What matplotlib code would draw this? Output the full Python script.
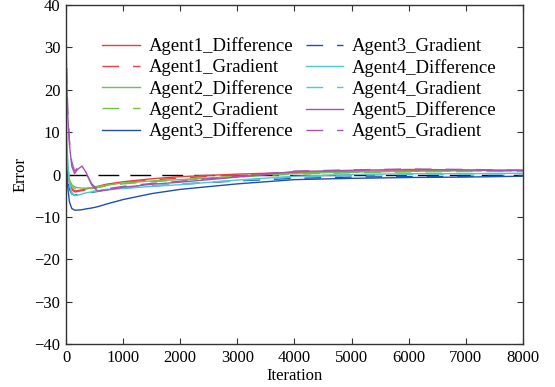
import numpy as np
import matplotlib
matplotlib.use("Agg")
import matplotlib.pyplot as plt

plt.rcParams['font.family'] = ['Liberation Serif', 'DejaVu Serif']

iters = [0, 10, 30, 60, 100, 150, 200, 280, 350, 450, 550, 700, 1000,
         1500, 2000, 3000, 4000, 5000, 6000, 7000, 8000]

a1_diff = [5, 3, 0.5, -2, -3.3, -3.9, -3.8, -3.6, -3.4, -3.1, -2.8, -2.3, -1.7,
           -1.0, -0.5, 0.1, 0.5, 0.7, 0.9, 1.0, 1.0]
a1_grad = [4, 2.5, 0, -2.2, -3.5, -4.1, -4.0, -3.8, -3.6, -3.3, -3.0, -2.5, -1.9,
           -1.3, -0.8, -0.1, 0.4, 0.6, 0.8, 0.9, 0.9]
a2_diff = [8, 5, 1.5, -1.2, -2.4, -2.9, -3.1, -3.2, -3.2, -3.1, -2.9, -2.5, -2.0,
           -1.5, -1.2, -0.4, 0.3, 0.6, 0.8, 0.9, 1.0]
a2_grad = [7, 4, 1, -1.5, -2.8, -3.3, -3.5, -3.5, -3.4, -3.3, -3.1, -2.7, -2.2,
           -1.7, -1.3, -0.6, 0.1, 0.4, 0.6, 0.7, 0.8]
a3_diff = [6, 2, -3, -6.5, -8.0, -8.4, -8.4, -8.3, -8.1, -7.9, -7.6, -7.0, -5.9,
           -4.5, -3.5, -2.2, -1.2, -0.9, -0.7, -0.6, -0.4]
a3_grad = [5, 2, -1, -3.5, -4.6, -4.8, -4.7, -4.6, -4.4, -4.2, -4.0, -3.6, -3.2,
           -2.7, -2.3, -1.5, -0.9, -0.6, -0.5, -0.4, -0.3]
a4_diff = [15, 10, 3, -2, -4.2, -4.9, -4.9, -4.6, -4.3, -4.1, -3.9, -3.6, -3.3,
           -2.8, -2.4, -1.3, -0.4, 0.0, 0.2, 0.2, 0.3]
a4_grad = [12, 8, 2, -2.5, -4.5, -5.0, -4.8, -4.5, -4.2, -4.0, -3.8, -3.5, -3.1,
           -2.7, -2.2, -1.4, -0.6, -0.2, 0.0, 0.1, 0.2]
a5_diff = [35, 22, 14, 7, 2, 0.2, 1.2, 2.0, 0.5, -2.5, -3.9, -3.7, -3.0,
           -2.3, -1.8, -0.6, 0.7, 1.0, 1.2, 1.1, 0.9]
a5_grad = [-33, 25, 15, 8, 3, 0.8, 1.5, 1.6, 0.3, -2.2, -3.5, -3.4, -2.8,
           -2.1, -1.6, -0.4, 0.8, 1.1, 1.3, 1.2, 1.0]

colors = ['#f23b3b', '#6cc24a', '#1f4eb4', '#4cc9d9', '#a752b0']
series = [(a1_diff, a1_grad), (a2_diff, a2_grad), (a3_diff, a3_grad),
          (a4_diff, a4_grad), (a5_diff, a5_grad)]

fig = plt.figure(figsize=(5.55, 3.87), dpi=100)
ax = fig.add_axes([0.119, 0.111, 0.823, 0.876])

ax.axhline(0, color='k', lw=1.0, dashes=(15, 8))

for k, (d, g) in enumerate(series):
    ax.plot(iters, d, color=colors[k], lw=1.0, label=f'Agent{k+1}_Difference')
    ax.plot(iters, g, color=colors[k], lw=1.0, dashes=(12, 10),
            label=f'Agent{k+1}_Gradient')

ax.set_xlim(0, 8000)
ax.set_ylim(-40, 40)
ax.set_xticks(np.arange(0, 8001, 1000))
ax.set_yticks(np.arange(-40, 41, 10))
ax.tick_params(direction='in', top=True, right=True, labelsize=12,
               length=4, width=0.8, colors='#333333', labelcolor='k', pad=4)
for s in ax.spines.values():
    s.set_color('#333333')
    s.set_linewidth(1.0)

ax.set_xlabel('Iteration', fontsize=12, labelpad=2)
ax.set_ylabel('Error', fontsize=12, labelpad=4)

ax.legend(ncol=2, frameon=False, fontsize=13.5, loc='upper left',
          bbox_to_anchor=(0.059, 0.932), handlelength=2.0, handletextpad=0.48,
          labelspacing=0.2, columnspacing=0.65, borderpad=0)

fig.savefig('out.png', dpi=100)
